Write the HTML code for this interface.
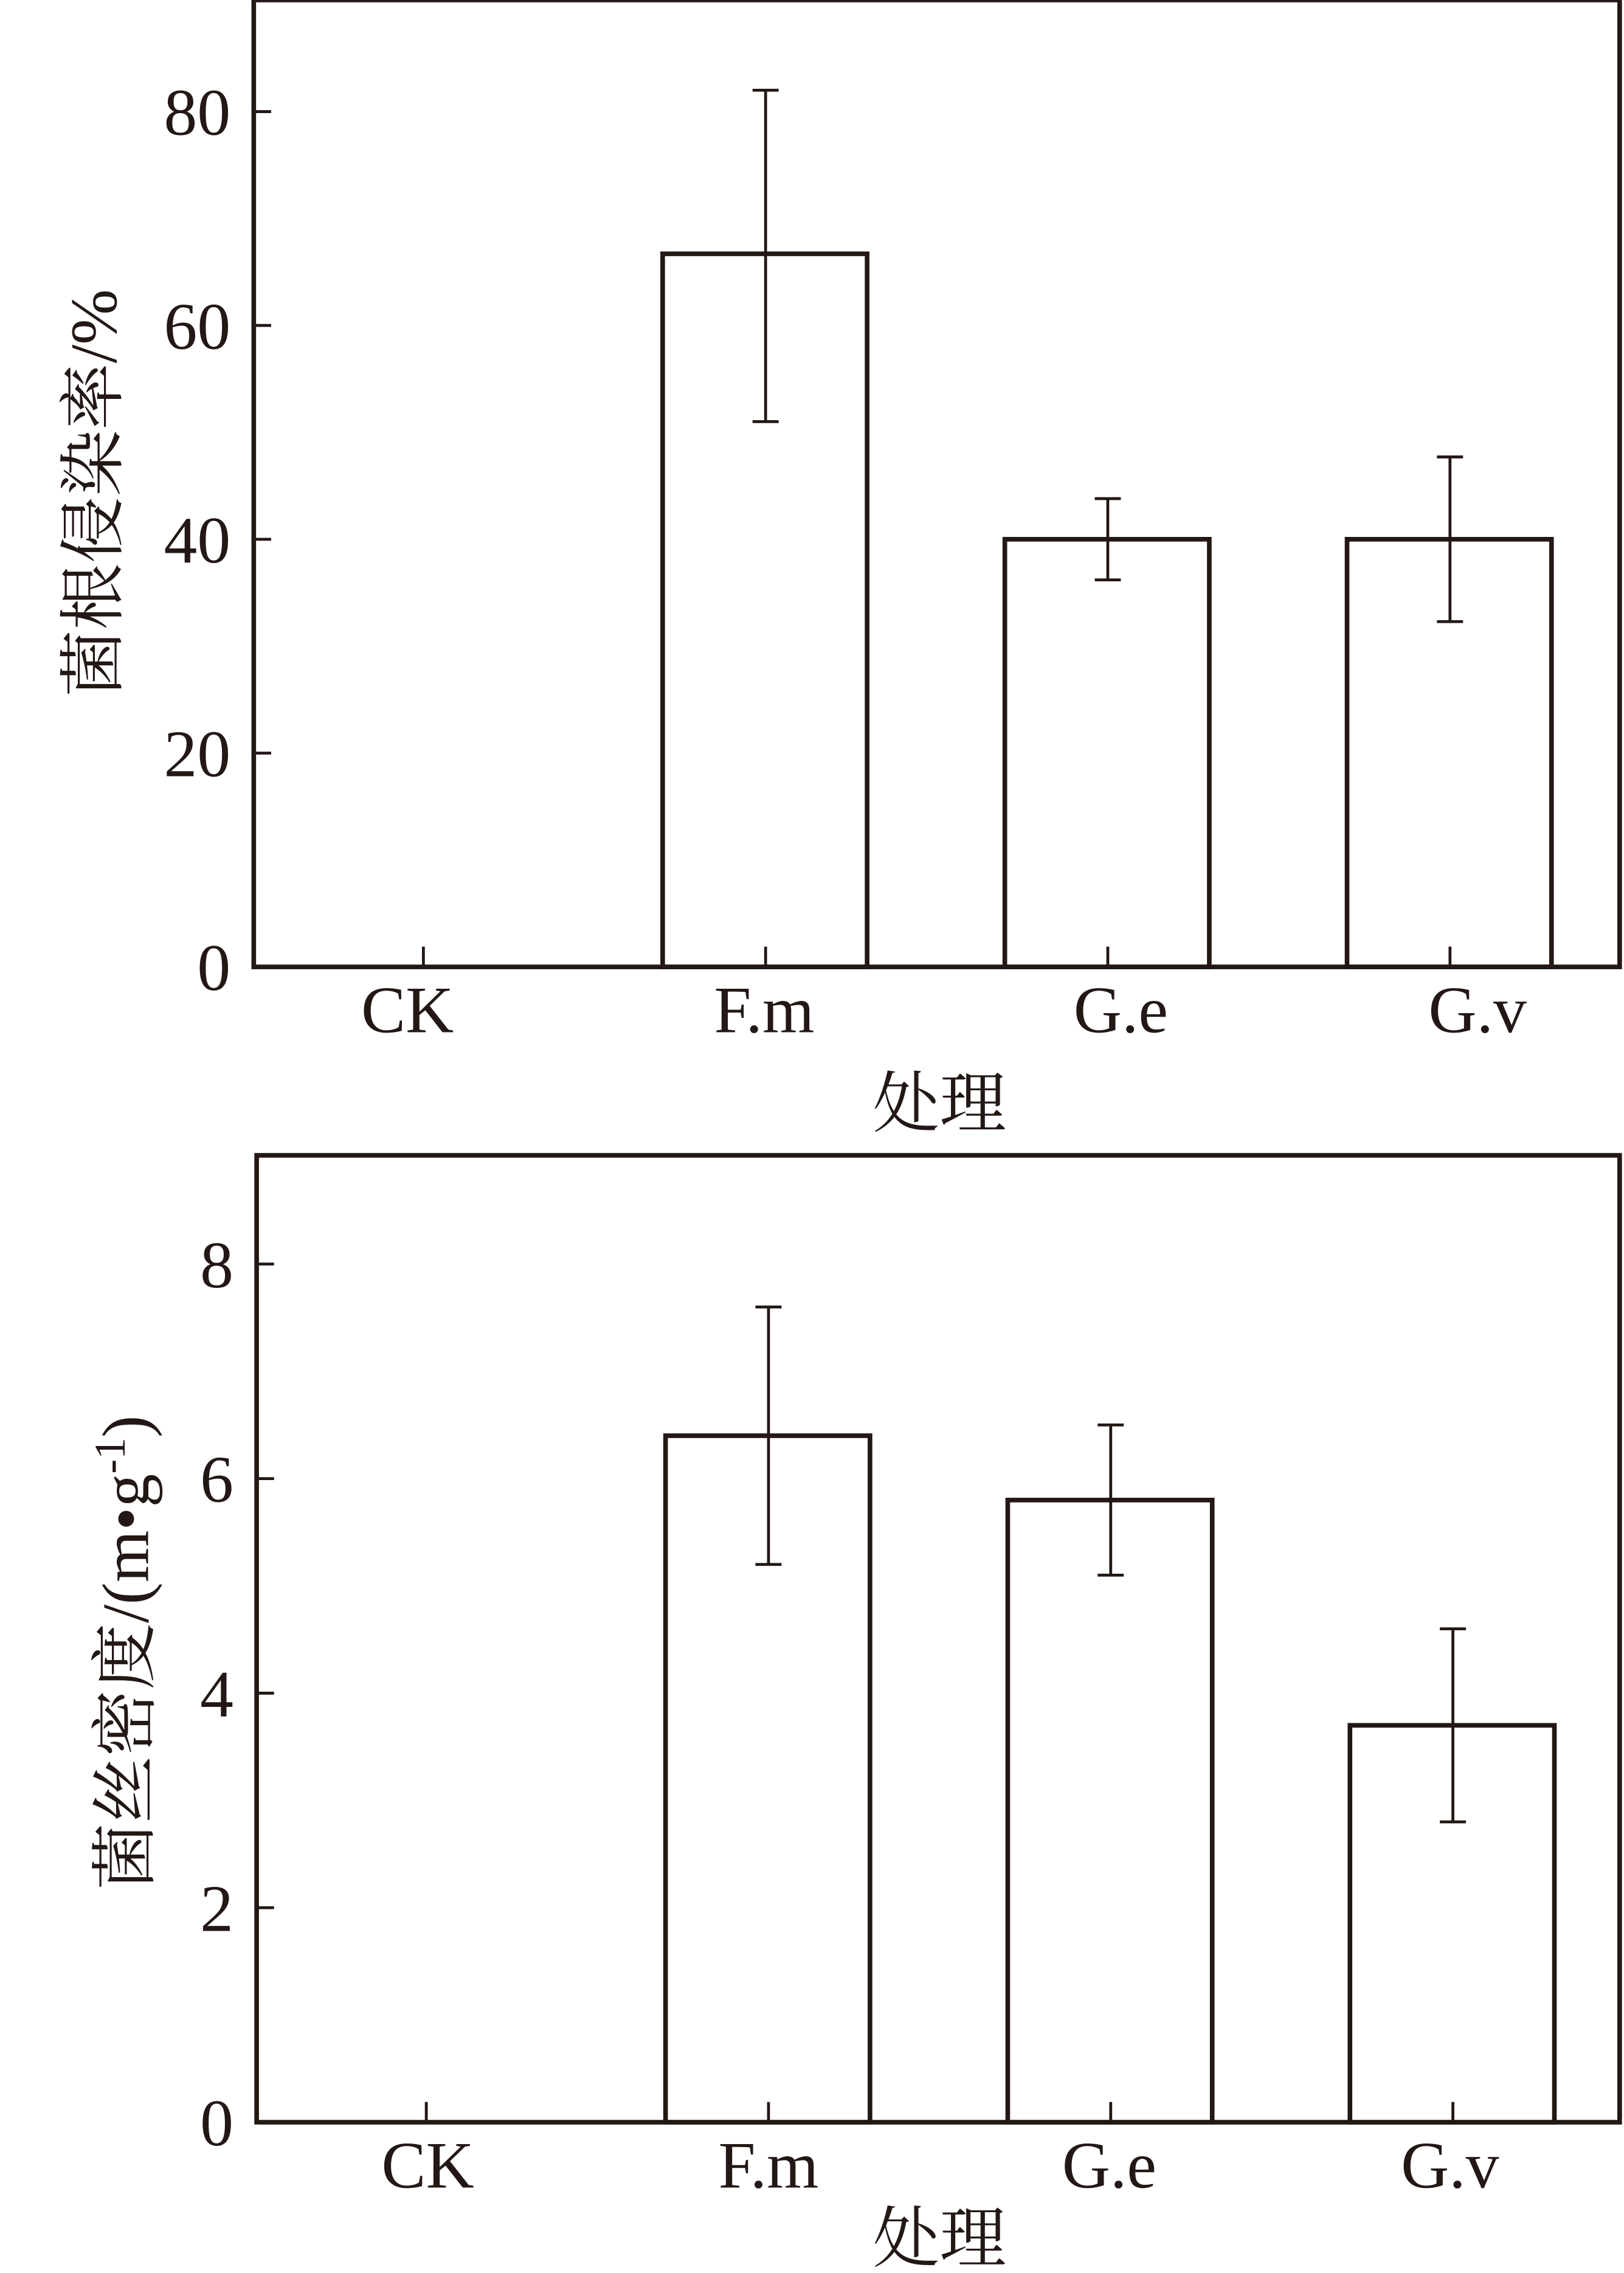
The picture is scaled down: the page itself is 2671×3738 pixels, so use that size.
<!DOCTYPE html>
<html><head><meta charset="utf-8"><style>html,body{margin:0;padding:0;background:#fff}svg{display:block}</style></head>
<body>
<svg id="fig" width="2671" height="3738" viewBox="0 0 1120 1568" preserveAspectRatio="none" xmlns="http://www.w3.org/2000/svg" font-family="'Liberation Serif','Noto Serif CJK SC',serif" fill="#231815"></svg>
<script>
const categories = ["CK","F.m","G.e","G.v"];
const rateValues = [0, 66.7, 40, 40];
const rateLow = [0, 51, 36.2, 32.3];
const rateHigh = [0, 82, 43.8, 47.7];
const rateTicks = [0, 20, 40, 60, 80];
const densValues = [0, 6.4, 5.8, 3.7];
const densLow = [0, 5.2, 5.1, 2.8];
const densHigh = [0, 7.6, 6.5, 4.6];
const densTicks = [0, 2, 4, 6, 8];

const NS = "http://www.w3.org/2000/svg";
const svg = document.getElementById("fig");
function mk(tag, attrs, parent, text) {
  const e = document.createElementNS(NS, tag);
  for (const k in attrs) e.setAttribute(k, attrs[k]);
  if (text !== undefined) e.textContent = text;
  (parent || svg).appendChild(e);
  return e;
}
const C = "#231815";
function drawChart(cfg) {
  const g = mk("g", {});
  
  
  const y = v => cfg.bottom - (v - 0) / cfg.vmax * (cfg.bottom - cfg.vtop);
  const x = i => cfg.x0 + i * 236;
  const fr = mk("rect", {x: cfg.left, y: cfg.top, width: 1117 - cfg.left, height: cfg.bottom - cfg.top, fill: "none", stroke: C, "stroke-width": 3.2}, g);
  
  
  cfg.ticks.forEach(t => {
    const ln = mk("line", {x1: cfg.left, x2: cfg.left + 12, y1: y(t), y2: y(t), stroke: C, "stroke-width": 2}, g);
    
    
    const tx = mk("text", {x: cfg.left - 16, y: y(t) + 16, "text-anchor": "end", "font-size": 46}, g, String(t));
    
    
  });
  categories.forEach((c, i) => {
    const cx = x(i);
    const tk = mk("line", {x1: cx, x2: cx, y1: cfg.bottom, y2: cfg.bottom - 14, stroke: C, "stroke-width": 2}, g);
    
    
    const lb = mk("text", {x: cfg.lx0 + i * cfg.lstep, y: cfg.bottom + 45, "text-anchor": "middle", "font-size": 46}, g, c);
    
    
    const v = cfg.values[i];
    if (v > 0) {
      const b = mk("rect", {x: cx - 71, y: y(v), width: 141, height: cfg.bottom - y(v), fill: "none", stroke: C, "stroke-width": 3.2}, g);
      
      
      const eg = mk("g", {stroke: C, "stroke-width": 2}, g);
      
      
      mk("line", {x1: cx, x2: cx, y1: y(cfg.low[i]), y2: y(cfg.high[i])}, eg);
      mk("line", {x1: cx - 9, x2: cx + 9, y1: y(cfg.low[i]), y2: y(cfg.low[i])}, eg);
      mk("line", {x1: cx - 9, x2: cx + 9, y1: y(cfg.high[i]), y2: y(cfg.high[i])}, eg);
    }
  });
  const xt = mk("text", {x: 648, y: cfg.bottom + cfg.xtdy, "text-anchor": "middle", "font-size": 46}, g, "处理");
  
  
  const yt = mk("text", {transform: `translate(${cfg.ytx},${cfg.yty}) rotate(-90)`, "text-anchor": "middle", "font-size": 46}, g);
  
  
  yt.innerHTML = cfg.ytitle;
}
drawChart({name: "infection-rate-chart", left: 175, top: 0, bottom: 667, vtop: 77, vmax: 80, x0: 292,
  lx0: 281, lstep: 246, xtdy: 110,
  values: rateValues, low: rateLow, high: rateHigh, ticks: rateTicks, ytx: 80, yty: 340, ytitle: "菌根侵染率/%"});
drawChart({name: "hyphal-density-chart", left: 177, top: 797, bottom: 1464, vtop: 872, vmax: 8, x0: 294,
  lx0: 295, lstep: 235, xtdy: 96,
  values: densValues, low: densLow, high: densHigh, ticks: densTicks, ytx: 102, yty: 1140,
  ytitle: "菌丝密度/(m•g<tspan font-size='30' dy='-16'>-1</tspan><tspan dy='16'>)</tspan>"});
</script>
</body></html>
